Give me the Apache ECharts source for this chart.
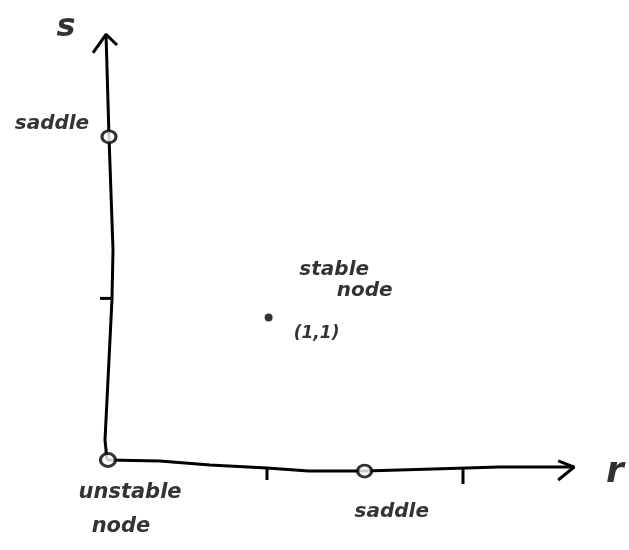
<!DOCTYPE html>
<html>
<head>
<meta charset="utf-8">
<script src="https://cdn.jsdelivr.net/npm/echarts@6/dist/echarts.min.js"></script>
<style>html,body{margin:0;padding:0;background:#fff}#c{width:629px;height:550px}</style>
</head>
<body>
<div id="c"></div>
<script>
// hand-drawn axes (r, s) as polylines in data units
var sAxisLine = [[0,0],[-0.0125,0.125],[0.031,1.0],[0.0375,1.3125],[0.0125,2.02],[-0.006,2.66]];
var rAxisLine = [[0,0],[0.33,-0.006],[0.644,-0.031],[1.0,-0.05],[1.26,-0.069],[1.61,-0.069],[2.04,-0.056],[2.45,-0.044],[2.92,-0.044]];
var sArrow = [[-0.0875,2.544],[-0.006,2.66],[0.0625,2.594]];
var rArrow = [[2.82,-0.006],[2.92,-0.044],[2.82,-0.125]];
var rTick1 = [[1.0,-0.05],[1.0,-0.125]];
var rTick2 = [[2.225,-0.05],[2.225,-0.15]];
var sTick1 = [[-0.044,1.01],[0.031,1.01]];
// fixed points
var saddlePoints = [[0.0125,2.02],[1.61,-0.069]];
var unstableNode = [[0.006,0]];
var stableNode = [[1.01,0.89]];
// annotations
var annoText = ['s','saddle','unstable','node','saddle','r','stable','node','(1,1)'];
var annoR = [-0.256,-0.344,0.144,0.0875,1.78,3.175,1.42,1.61,1.31];
var annoS = [2.7,2.1,-0.206,-0.419,-0.325,-0.081,1.19,1.06,0.79];
var annoSize = [32,20,21,21,20,36,20,20,17];

var lineStyle = {color:'#000', width:3};
function lineSeries(d){
  return {type:'line', data:d, symbol:'none', clip:false, silent:true, lineStyle:lineStyle, animation:false};
}
var anno = annoText.map(function(t,i){
  return {value:[annoR[i],annoS[i]], name:t,
    label:{show:true, formatter:t, position:'inside', fontSize:annoSize[i], color:'#000',
      fontFamily:'DejaVu Sans', fontStyle:'italic', fontWeight:'bold'}};
});
var chart = echarts.init(document.getElementById('c'));
chart.setOption({
  backgroundColor:'#fff',
  animation:false,
  grid:{left:27, top:20, width:600, height:520},
  xAxis:{type:'value', min:-0.5, max:3.25, show:false},
  yAxis:{type:'value', min:-0.5, max:2.75, show:false},
  series:[
    lineSeries(sAxisLine), lineSeries(rAxisLine), lineSeries(sArrow), lineSeries(rArrow),
    lineSeries(rTick1), lineSeries(rTick2), lineSeries(sTick1),
    {type:'scatter', data:saddlePoints, symbol:'circle', symbolSize:[14,12], clip:false,
      itemStyle:{color:'#fff', borderColor:'#000', borderWidth:3}, z:5},
    {type:'scatter', data:unstableNode, symbol:'circle', symbolSize:[15,13], clip:false,
      itemStyle:{color:'#fff', borderColor:'#000', borderWidth:3}, z:5},
    {type:'scatter', data:stableNode, symbol:'circle', symbolSize:8, clip:false,
      itemStyle:{color:'#000'}, z:5},
    {type:'scatter', data:anno, symbolSize:0, clip:false, silent:true, z:6}
  ]
});
</script>
</body>
</html>
